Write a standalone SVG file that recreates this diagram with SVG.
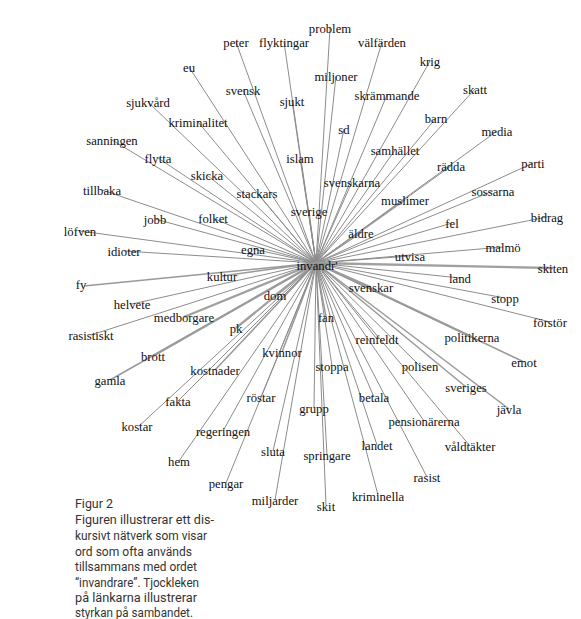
<svg xmlns="http://www.w3.org/2000/svg" width="581" height="619" viewBox="0 0 581 619">
<style>
.e{stroke:#8c8c8c;stroke-width:1;fill:none}
.m{stroke-width:1.5;stroke:#999}
.w{stroke-width:2.3;stroke:#a0a0a0}
.t{font-family:"Liberation Serif","Times New Roman",serif;font-size:12.7px;fill:#111;text-anchor:middle}
.c{font-family:Roboto,"Liberation Sans",sans-serif;font-size:12.5px;fill:#333}
</style>
<rect width="581" height="619" fill="#fff"/>
<g id="edges">
<line class="e" x1="316" y1="263" x2="330" y2="28"/>
<line class="e" x1="316" y1="263" x2="236" y2="42"/>
<line class="e" x1="316" y1="263" x2="284" y2="42"/>
<line class="e" x1="316" y1="263" x2="382" y2="42"/>
<line class="e" x1="316" y1="263" x2="430" y2="61"/>
<line class="e" x1="316" y1="263" x2="189" y2="67"/>
<line class="e" x1="316" y1="263" x2="336" y2="76"/>
<line class="e" x1="316" y1="263" x2="475" y2="89"/>
<line class="e" x1="316" y1="263" x2="243" y2="90"/>
<line class="e" x1="316" y1="263" x2="292" y2="101"/>
<line class="e" x1="316" y1="263" x2="387" y2="95"/>
<line class="e" x1="316" y1="263" x2="148" y2="102"/>
<line class="e" x1="316" y1="263" x2="436" y2="118"/>
<line class="e" x1="316" y1="263" x2="198" y2="122"/>
<line class="e" x1="316" y1="263" x2="497" y2="131"/>
<line class="e" x1="316" y1="263" x2="344" y2="129"/>
<line class="e" x1="316" y1="263" x2="112" y2="140"/>
<line class="e" x1="316" y1="263" x2="395" y2="150"/>
<line class="e" x1="316" y1="263" x2="300" y2="158"/>
<line class="e" x1="316" y1="263" x2="158" y2="158"/>
<line class="e" x1="316" y1="263" x2="451" y2="166"/>
<line class="e" x1="316" y1="263" x2="533" y2="163"/>
<line class="e" x1="316" y1="263" x2="207" y2="175"/>
<line class="e" x1="316" y1="263" x2="352" y2="182"/>
<line class="e" x1="316" y1="263" x2="102" y2="190"/>
<line class="e" x1="316" y1="263" x2="257" y2="193"/>
<line class="e" x1="316" y1="263" x2="493" y2="191"/>
<line class="e m" x1="316" y1="263" x2="405" y2="200"/>
<line class="e" x1="316" y1="263" x2="309" y2="211"/>
<line class="e" x1="316" y1="263" x2="547" y2="217"/>
<line class="e" x1="316" y1="263" x2="213" y2="218"/>
<line class="e" x1="316" y1="263" x2="155" y2="219"/>
<line class="e" x1="316" y1="263" x2="452" y2="223"/>
<line class="e" x1="316" y1="263" x2="80" y2="231"/>
<line class="e" x1="316" y1="263" x2="361" y2="233"/>
<line class="e" x1="316" y1="263" x2="253" y2="249"/>
<line class="e" x1="316" y1="263" x2="124" y2="251"/>
<line class="e" x1="316" y1="263" x2="503" y2="247"/>
<line class="e" x1="316" y1="263" x2="410" y2="256"/>
<line class="e w" x1="316" y1="263" x2="553" y2="268"/>
<line class="e m" x1="316" y1="263" x2="222" y2="276"/>
<line class="e" x1="316" y1="263" x2="460" y2="278"/>
<line class="e m" x1="316" y1="263" x2="84" y2="286"/>
<line class="e m" x1="316" y1="263" x2="371" y2="287"/>
<line class="e m" x1="316" y1="263" x2="275" y2="295"/>
<line class="e" x1="316" y1="263" x2="505" y2="298"/>
<line class="e" x1="316" y1="263" x2="132" y2="304"/>
<line class="e w" x1="316" y1="263" x2="184" y2="317"/>
<line class="e m" x1="316" y1="263" x2="326" y2="317"/>
<line class="e" x1="316" y1="263" x2="550" y2="322"/>
<line class="e w" x1="316" y1="263" x2="236" y2="328"/>
<line class="e" x1="316" y1="263" x2="91" y2="335"/>
<line class="e" x1="316" y1="263" x2="377" y2="339"/>
<line class="e w" x1="316" y1="263" x2="472" y2="337"/>
<line class="e w" x1="316" y1="263" x2="153" y2="356"/>
<line class="e m" x1="316" y1="263" x2="282" y2="352"/>
<line class="e m" x1="316" y1="263" x2="524" y2="362"/>
<line class="e" x1="316" y1="263" x2="420" y2="366"/>
<line class="e" x1="316" y1="263" x2="332" y2="366"/>
<line class="e m" x1="316" y1="263" x2="215" y2="370"/>
<line class="e m" x1="316" y1="263" x2="466" y2="387"/>
<line class="e m" x1="316" y1="263" x2="110" y2="380"/>
<line class="e" x1="316" y1="263" x2="261" y2="397"/>
<line class="e" x1="316" y1="263" x2="374" y2="397"/>
<line class="e" x1="316" y1="263" x2="178" y2="401"/>
<line class="e m" x1="316" y1="263" x2="509" y2="409"/>
<line class="e" x1="316" y1="263" x2="314" y2="408"/>
<line class="e" x1="316" y1="263" x2="424" y2="421"/>
<line class="e" x1="316" y1="263" x2="139" y2="426"/>
<line class="e" x1="316" y1="263" x2="223" y2="431"/>
<line class="e" x1="316" y1="263" x2="377" y2="445"/>
<line class="e" x1="316" y1="263" x2="470" y2="446"/>
<line class="e" x1="316" y1="263" x2="179" y2="461"/>
<line class="e" x1="316" y1="263" x2="273" y2="451"/>
<line class="e" x1="316" y1="263" x2="327" y2="455"/>
<line class="e" x1="316" y1="263" x2="226" y2="483"/>
<line class="e" x1="316" y1="263" x2="427" y2="477"/>
<line class="e" x1="316" y1="263" x2="275" y2="500"/>
<line class="e" x1="316" y1="263" x2="378" y2="495"/>
<line class="e" x1="316" y1="263" x2="326" y2="505"/>
</g>
<g id="n-problem"><text class="t" x="330" y="33">problem</text></g>
<g id="n-peter"><text class="t" x="236" y="47">peter</text></g>
<g id="n-flyktingar"><text class="t" x="284" y="47">flyktingar</text></g>
<g id="n-valfarden"><text class="t" x="382" y="47">välfärden</text></g>
<g id="n-krig"><text class="t" x="430" y="66">krig</text></g>
<g id="n-eu"><text class="t" x="189" y="72">eu</text></g>
<g id="n-miljoner"><text class="t" x="336" y="81">miljoner</text></g>
<g id="n-skatt"><text class="t" x="475" y="94">skatt</text></g>
<g id="n-svensk"><text class="t" x="243" y="95">svensk</text></g>
<g id="n-sjukt"><text class="t" x="292" y="106">sjukt</text></g>
<g id="n-skrammande"><text class="t" x="387" y="100">skrämmande</text></g>
<g id="n-sjukvard"><text class="t" x="148" y="107">sjukvård</text></g>
<g id="n-barn"><text class="t" x="436" y="123">barn</text></g>
<g id="n-kriminalitet"><text class="t" x="198" y="127">kriminalitet</text></g>
<g id="n-media"><text class="t" x="497" y="136">media</text></g>
<g id="n-sd"><text class="t" x="344" y="134">sd</text></g>
<g id="n-sanningen"><text class="t" x="112" y="145">sanningen</text></g>
<g id="n-samhallet"><text class="t" x="395" y="155">samhället</text></g>
<g id="n-islam"><text class="t" x="300" y="163">islam</text></g>
<g id="n-flytta"><text class="t" x="158" y="163">flytta</text></g>
<g id="n-radda"><text class="t" x="451" y="171">rädda</text></g>
<g id="n-parti"><text class="t" x="533" y="168">parti</text></g>
<g id="n-skicka"><text class="t" x="207" y="180">skicka</text></g>
<g id="n-svenskarna"><text class="t" x="352" y="187">svenskarna</text></g>
<g id="n-tillbaka"><text class="t" x="102" y="195">tillbaka</text></g>
<g id="n-stackars"><text class="t" x="257" y="198">stackars</text></g>
<g id="n-sossarna"><text class="t" x="493" y="196">sossarna</text></g>
<g id="n-muslimer"><text class="t" x="405" y="205">muslimer</text></g>
<g id="n-sverige"><text class="t" x="309" y="216">sverige</text></g>
<g id="n-bidrag"><text class="t" x="547" y="222">bidrag</text></g>
<g id="n-folket"><text class="t" x="213" y="223">folket</text></g>
<g id="n-jobb"><text class="t" x="155" y="224">jobb</text></g>
<g id="n-fel"><text class="t" x="452" y="228">fel</text></g>
<g id="n-lofven"><text class="t" x="80" y="236">löfven</text></g>
<g id="n-aldre"><text class="t" x="361" y="238">äldre</text></g>
<g id="n-egna"><text class="t" x="253" y="254">egna</text></g>
<g id="n-idioter"><text class="t" x="124" y="256">idioter</text></g>
<g id="n-malmo"><text class="t" x="503" y="252">malmö</text></g>
<g id="n-utvisa"><text class="t" x="410" y="261">utvisa</text></g>
<g id="n-invandr"><text class="t" x="317" y="270">invandr'</text></g>
<g id="n-skiten"><text class="t" x="553" y="273">skiten</text></g>
<g id="n-kultur"><text class="t" x="222" y="281">kultur</text></g>
<g id="n-land"><text class="t" x="460" y="283">land</text></g>
<g id="n-fy"><text class="t" x="81" y="289">fy</text></g>
<g id="n-svenskar"><text class="t" x="371" y="292">svenskar</text></g>
<g id="n-dom"><text class="t" x="275" y="300">dom</text></g>
<g id="n-stopp"><text class="t" x="505" y="303">stopp</text></g>
<g id="n-helvete"><text class="t" x="132" y="309">helvete</text></g>
<g id="n-medborgare"><text class="t" x="184" y="322">medborgare</text></g>
<g id="n-fan"><text class="t" x="326" y="322">fan</text></g>
<g id="n-forstor"><text class="t" x="550" y="327">förstör</text></g>
<g id="n-pk"><text class="t" x="236" y="333">pk</text></g>
<g id="n-rasistiskt"><text class="t" x="91" y="340">rasistiskt</text></g>
<g id="n-reinfeldt"><text class="t" x="377" y="344">reinfeldt</text></g>
<g id="n-politikerna"><text class="t" x="472" y="342">politikerna</text></g>
<g id="n-brott"><text class="t" x="153" y="361">brott</text></g>
<g id="n-kvinnor"><text class="t" x="282" y="357">kvinnor</text></g>
<g id="n-emot"><text class="t" x="524" y="367">emot</text></g>
<g id="n-polisen"><text class="t" x="420" y="371">polisen</text></g>
<g id="n-stoppa"><text class="t" x="332" y="371">stoppa</text></g>
<g id="n-kostnader"><text class="t" x="215" y="375">kostnader</text></g>
<g id="n-sveriges"><text class="t" x="466" y="392">sveriges</text></g>
<g id="n-gamla"><text class="t" x="110" y="385">gamla</text></g>
<g id="n-rostar"><text class="t" x="261" y="402">röstar</text></g>
<g id="n-betala"><text class="t" x="374" y="402">betala</text></g>
<g id="n-fakta"><text class="t" x="178" y="406">fakta</text></g>
<g id="n-javla"><text class="t" x="509" y="414">jävla</text></g>
<g id="n-grupp"><text class="t" x="314" y="413">grupp</text></g>
<g id="n-pensionarerna"><text class="t" x="424" y="426">pensionärerna</text></g>
<g id="n-kostar"><text class="t" x="137" y="431">kostar</text></g>
<g id="n-regeringen"><text class="t" x="223" y="436">regeringen</text></g>
<g id="n-landet"><text class="t" x="377" y="450">landet</text></g>
<g id="n-valdtakter"><text class="t" x="470" y="451">våldtäkter</text></g>
<g id="n-hem"><text class="t" x="179" y="466">hem</text></g>
<g id="n-sluta"><text class="t" x="273" y="456">sluta</text></g>
<g id="n-springare"><text class="t" x="327" y="460">springare</text></g>
<g id="n-pengar"><text class="t" x="226" y="488">pengar</text></g>
<g id="n-rasist"><text class="t" x="427" y="482">rasist</text></g>
<g id="n-miljarder"><text class="t" x="275" y="505">miljarder</text></g>
<g id="n-kriminella"><text class="t" x="378" y="501">kriminella</text></g>
<g id="n-skit"><text class="t" x="326" y="511">skit</text></g>
<g id="caption">
<text class="c" x="75" y="508" textLength="38" lengthAdjust="spacingAndGlyphs">Figur 2</text>
<text class="c" x="75" y="524" textLength="139" lengthAdjust="spacingAndGlyphs">Figuren illustrerar ett dis-</text>
<text class="c" x="75" y="540" textLength="132" lengthAdjust="spacingAndGlyphs">kursivt nätverk som visar</text>
<text class="c" x="75" y="556" textLength="117" lengthAdjust="spacingAndGlyphs">ord som ofta används</text>
<text class="c" x="75" y="571" textLength="122" lengthAdjust="spacingAndGlyphs">tillsammans med ordet</text>
<text class="c" x="75" y="587" textLength="124" lengthAdjust="spacingAndGlyphs">“invandrare”. Tjockleken</text>
<text class="c" x="75" y="602" textLength="122" lengthAdjust="spacingAndGlyphs">på länkarna illustrerar</text>
<text class="c" x="75" y="617" textLength="118" lengthAdjust="spacingAndGlyphs">styrkan på sambandet.</text>
</g>
</svg>
